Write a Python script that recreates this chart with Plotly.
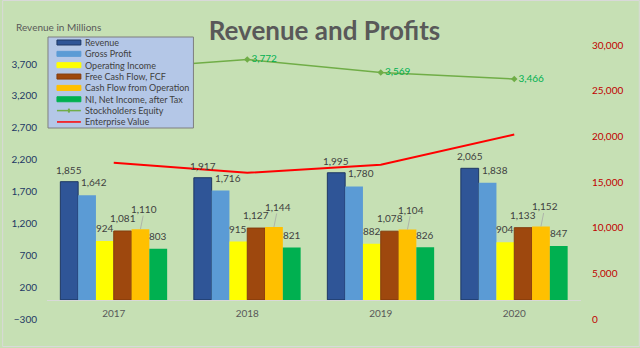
import plotly.graph_objects as go

# ---------------- data ----------------
years = ["2017", "2018", "2019", "2020"]
revenue = [1855, 1917, 1995, 2065]
gross_profit = [1642, 1716, 1780, 1838]
operating_income = [924, 915, 882, 904]
free_cash_flow = [1081, 1127, 1078, 1133]
cash_flow_operation = [1110, 1144, 1104, 1152]
net_income = [803, 821, 826, 847]
stockholders_equity = [3620, 3772, 3569, 3466]
enterprise_value = [17100, 16000, 16900, 20200]

left_ticks = [-300, 200, 700, 1200, 1700, 2200, 2700, 3200, 3700]
right_ticks = [0, 5000, 10000, 15000, 20000, 25000, 30000]

bar_series = [
    ("Revenue", revenue, "#2f5597", "#1f3864", 1),
    ("Gross Profit", gross_profit, "#5b9bd5", "#5b9bd5", 0),
    ("Operating Income", operating_income, "#ffff00", "#ffff00", 0),
    ("Free Cash Flow, FCF", free_cash_flow, "#9e480e", "#843c0c", 1),
    ("Cash Flow from Operation", cash_flow_operation, "#ffc000", "#ffc000", 0),
    ("NI, Net Income, after Tax", net_income, "#00b050", "#00b050", 0),
]
# label offsets (pixels) per series: dx, dy above bar top, leader line
label_style = [(0, 12, False), (7, 13, False), (0, 13, False),
               (0, 13, False), (4, 20, True), (0, 12.5, False)]

# ---------------- layout geometry ----------------
W, H = 640, 348
L, R, T, B = 45, 581, 45, 319
def px_x(p):
    return (p - L) / (R - L)
def px_y(p):
    return (B - p) / (B - T)

FONT = "Lato"
BG = "#c6e0b4"
TXT = "#404040"

fig = go.Figure()

n = len(bar_series)
bargap = 0.2
bw = (1 - bargap) / n
for name, vals, col, lcol, lw in bar_series:
    fig.add_trace(go.Bar(
        x=years, y=vals, name=name,
        marker=dict(color=col, line=dict(color=lcol, width=lw)),
        yaxis="y", showlegend=False,
    ))

# the 2017 label sits behind the legend box in the original, so it is not drawn
se_text = [""] + [f"{v:,}" for v in stockholders_equity[1:]]
fig.add_trace(go.Scatter(
    x=years, y=stockholders_equity, name="Stockholders Equity",
    mode="lines+markers+text",
    line=dict(color="#70ad47", width=1.5),
    marker=dict(symbol="diamond", size=5, color="#70ad47"),
    text=se_text,
    textposition="middle right",
    textfont=dict(family=FONT, size=10, color="#00b050"),
    yaxis="y", showlegend=False, cliponaxis=False,
))
fig.add_trace(go.Scatter(
    x=years, y=enterprise_value, name="Enterprise Value",
    mode="lines", line=dict(color="#ff0000", width=2),
    yaxis="y2", showlegend=False,
))

# data labels for bars
annotations = []
for si, (name, vals, col, lcol, lw) in enumerate(bar_series):
    dx, dy, leader = label_style[si]
    off = -0.4 + (si + 0.5) * bw
    for ci, v in enumerate(vals):
        if leader:
            annotations.append(dict(
                x=ci + off, y=v, xref="x", yref="y", text=f"{v:,}",
                showarrow=True, arrowhead=0, arrowwidth=0.75, arrowcolor="#a6a6a6",
                ax=dx, ay=-dy, standoff=0, borderpad=0,
                font=dict(family=FONT, size=10, color=TXT),
            ))
        else:
            annotations.append(dict(
                x=ci + off, y=v, xref="x", yref="y", text=f"{v:,}",
                showarrow=False, xshift=dx, yshift=dy, yanchor="middle",
                borderpad=0,
                font=dict(family=FONT, size=10, color=TXT),
            ))

annotations.append(dict(
    x=px_x(12), y=px_y(27), xref="paper", yref="paper", xanchor="left",
    yanchor="middle", text="Revenue in Millions", showarrow=False,
    font=dict(family=FONT, size=10, color="#595959"),
))

# manual legend
shapes = []
leg_x0, leg_x1, leg_y0, leg_y1 = 46, 192, 37, 128
shapes.append(dict(type="rect", xref="paper", yref="paper", layer="above",
                   x0=px_x(leg_x0), x1=px_x(leg_x1), y0=px_y(leg_y1), y1=px_y(leg_y0),
                   fillcolor="#b4c7e7", line=dict(color="#7f7f7f", width=1)))
leg_items = [(b[0], "bar", b[2], b[3]) for b in bar_series] + [
    ("Stockholders Equity", "line", "#70ad47", "#70ad47"),
    ("Enterprise Value", "line", "#ff0000", "#ff0000"),
]
y_start, y_step = 42.5, 11.35
for k, (name, kind, col, lcol) in enumerate(leg_items):
    yc = y_start + k * y_step
    if kind == "bar":
        shapes.append(dict(type="rect", xref="paper", yref="paper", layer="above",
                           x0=px_x(55), x1=px_x(79), y0=px_y(yc + 2.5), y1=px_y(yc - 2.5),
                           fillcolor=col, line=dict(color=lcol, width=1)))
    else:
        shapes.append(dict(type="line", xref="paper", yref="paper", layer="above",
                           x0=px_x(55), x1=px_x(79), y0=px_y(yc), y1=px_y(yc),
                           line=dict(color=col, width=1.5)))
        if name == "Stockholders Equity":
            shapes.append(dict(type="line", xref="paper", yref="paper", layer="above",
                               x0=px_x(67), x1=px_x(67), y0=px_y(yc + 2), y1=px_y(yc - 2),
                               line=dict(color=col, width=2)))
    annotations.append(dict(
        x=px_x(82), y=px_y(yc), xref="paper", yref="paper", xanchor="left",
        yanchor="middle", text=name, showarrow=False, borderpad=0,
        font=dict(family=FONT, size=9, color=TXT),
    ))

# outer border
shapes.append(dict(type="rect", xref="paper", yref="paper", layer="below",
                   x0=px_x(0.5), x1=px_x(W - 0.5), y0=px_y(H - 1.5), y1=px_y(0.5),
                   line=dict(color="#d9d9d9", width=1)))

fig.update_layout(
    width=W, height=H,
    margin=dict(l=L, r=W - R, t=T, b=H - B),
    paper_bgcolor=BG, plot_bgcolor=BG,
    barmode="group", bargap=bargap, bargroupgap=0,
    title=dict(text="<b>Revenue and Profits</b>", x=324.5 / W, xanchor="center",
               y=1 - 31 / H, yanchor="middle", xref="container", yref="container",
               font=dict(family=FONT, size=26, color="#595959")),
    xaxis=dict(type="category", range=[-0.5, 3.5], showgrid=False,
               anchor="free", position=300 / 4300,
               showline=True, linecolor="#d9d9d9", linewidth=1,
               ticks="", ticklabelstandoff=4,
               tickfont=dict(family=FONT, size=10, color="#595959")),
    yaxis=dict(range=[-300, 4000], tickvals=left_ticks, tickformat=",",
               showgrid=False, zeroline=False, showline=False,
               ticklabelstandoff=9,
               tickfont=dict(family=FONT, size=10, color="#1f3864")),
    yaxis2=dict(range=[0, 30000], tickvals=right_ticks, tickformat=",",
                overlaying="y", side="right", showgrid=False, zeroline=False,
                showline=False, ticklabelstandoff=10,
                tickfont=dict(family=FONT, size=10, color="#c00000")),
    shapes=shapes, annotations=annotations,
    showlegend=False,
)

fig.write_html("out.html")
